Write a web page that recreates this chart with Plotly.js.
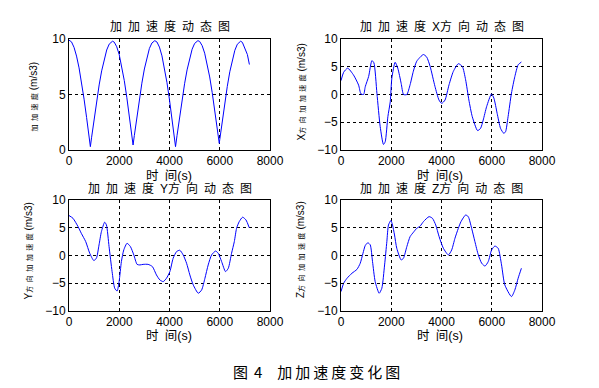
<!DOCTYPE html>
<html><head><meta charset="utf-8">
<script src="https://cdn.plot.ly/plotly-3.0.1.min.js"></script>
<style>body{margin:0;background:#fff}#c{width:599px;height:388px}</style></head>
<body><div id="c"></div>
<script>
// Data
const t1 = [0,100,200,300,400,500,600,700,800,850,900,1000,1100,1200,1300,1400,1500,1600,1700,1730,1800,1900,2000,2100,2200,2300,2400,2500,2550,2600,2700,2800,2900,3000,3100,3200,3300,3415,3500,3600,3700,3800,3900,4000,4100,4200,4240,4300,4400,4500,4600,4700,4800,4900,5000,5130,5200,5300,5400,5500,5600,5700,5800,5900,5980,6000,6100,6200,6300,6400,6500,6600,6700,6830,6900,7000,7100,7180];
const jerk = [9.9,9.74,9.25,8.46,7.4,6.09,4.58,2.93,1.18,0.3,1.15,2.81,4.4,5.86,7.13,8.2,9.01,9.54,9.79,9.8,9.72,9.3,8.58,7.55,6.26,4.75,3.1,1.35,0.45,1.3,2.98,4.57,6.02,7.3,8.35,9.15,9.64,9.85,9.73,9.27,8.48,7.4,6.06,4.51,2.82,1.03,0.3,1.31,2.96,4.53,5.97,7.22,8.27,9.08,9.6,9.85,9.78,9.4,8.72,7.77,6.58,5.17,3.62,1.97,0.6,0.94,2.62,4.24,5.73,7.05,8.14,8.98,9.53,9.8,9.7,9.2,8.6,7.7];

const t2 = [0,105,265,500,700,795,900,965,1100,1230,1310,1430,1560,1690,1760,1865,1960,2025,2155,2260,2395,2490,2620,2750,2880,3015,3280,3410,3545,3740,3900,4010,4140,4300,4470,4670,4830,4960,5090,5225,5435,5555,5660,5795,5990,6085,6215,6350,6480,6550,6650,6785,6920,7050,7180];
const jerkX = [2.5,4.0,4.75,3.5,1.7,0.1,0.0,1.4,3.25,6.1,5.7,0.2,-5.8,-9.0,-8.5,-4.0,-1.3,3.0,5.8,4.75,2.0,0.0,0.0,1.75,4.2,6.0,7.2,6.75,5.1,1.45,-1.0,-1.6,-1.0,1.75,4.15,5.55,5.05,2.65,-1.0,-4.0,-6.5,-6.1,-4.6,-2.2,0.1,-0.65,-3.4,-6.1,-7.0,-6.7,-4.0,0.25,3.25,5.35,5.85];

const t3 = [0,160,360,490,665,825,985,1090,1195,1290,1420,1490,1595,1715,1820,1915,1995,2085,2180,2310,2445,2580,2710,2820,2950,3150,3320,3480,3615,3750,3880,4015,4145,4280,4410,4545,4680,4810,4945,5145,5280,5410,5540,5675,5835,5940,6075,6230,6340,6470,6580,6670,6775,6910,7045,7175];
const jerkY = [7.2,6.7,5.2,4.0,2.5,0.4,-0.9,-0.5,1.9,4.3,6.0,5.5,1.6,-2.9,-5.9,-6.4,-4.7,-1.1,1.0,2.2,1.6,0.1,-1.6,-1.7,-1.6,-1.6,-2.0,-3.5,-4.4,-4.7,-4.1,-2.9,-0.5,0.7,0.95,0.1,-1.4,-3.5,-5.3,-6.8,-6.2,-4.1,-1.7,0.1,0.8,0.4,-1.1,-2.9,-2.3,0.4,2.5,4.9,6.1,6.9,6.4,5.0];

const t4 = [0,105,240,435,635,765,875,965,1070,1165,1255,1360,1520,1625,1735,1825,1890,1985,2050,2130,2220,2395,2485,2620,2750,2885,3015,3150,3280,3505,3640,3770,3905,4075,4275,4405,4535,4670,4775,4960,5065,5200,5330,5465,5600,5730,5860,5995,6125,6255,6390,6520,6785,6920,7050,7180];
const jerkZ = [-6.5,-5.0,-4.1,-3.2,-2.5,-1.4,0.4,1.8,2.3,1.9,-1.1,-4.7,-6.8,-5.9,-1.7,2.5,5.5,6.3,5.5,3.7,1.3,-0.8,-0.5,1.6,3.4,4.2,4.9,5.3,6.1,7.0,6.7,5.5,3.4,1.3,0.1,1.0,3.1,4.9,6.1,7.3,7.0,4.9,2.5,0.1,-1.4,-1.9,-1.1,1.0,1.7,1.3,-1.7,-5.3,-7.4,-6.2,-4.1,-2.3];

const titles = ["加加速度动态图","加加速度X方向动态图","加加速度Y方向动态图","加加速度Z方向动态图"];
const yPrefix = ["","X","Y","Z"];
const yCJK = ["加 加 速 度","方 向 加 加 速 度","方 向 加 加 速 度","方 向 加 加 速 度"];
const yUnit = " (m/s3)";
const xTitle = "时\u2002间(s)";
const caption = "图\u2009\u20094\u2002\u2002加\u2009加\u2009速\u2009度\u2009变\u2009化\u2009图";

const W = 599, H = 388;
const px = v => v / W, py = v => 1 - v / H;
const FONT = "Liberation Sans, Arial, Noto Sans CJK SC, sans-serif";

function ax(domain, anchor, range, dtick) {
  return {domain, anchor, range, dtick, tick0: 0, autorange: false,
    showline: true, mirror: 'ticks', linecolor: '#000', linewidth: 1,
    ticks: 'inside', ticklen: 3, tickcolor: '#000',
    showgrid: true, gridcolor: '#000', griddash: '3px,3px', gridwidth: 1,
    zeroline: false, fixedrange: true,
    tickfont: {family: FONT, size: 12, color: '#000'}};
}

const xd = [[px(69), px(270)], [px(341), px(542)]];
const ydTop = [py(150), py(39)], ydBot = [py(311), py(200)];

const line = {color: '#0000ff', width: 1};
const data = [
  {x: t1, y: jerk, xaxis: 'x', yaxis: 'y', mode: 'lines', line},
  {x: t2, y: jerkX, xaxis: 'x2', yaxis: 'y2', mode: 'lines', line: {...line, shape: 'spline', smoothing: 0.6}},
  {x: t3, y: jerkY, xaxis: 'x3', yaxis: 'y3', mode: 'lines', line: {...line, shape: 'spline', smoothing: 0.6}},
  {x: t4, y: jerkZ, xaxis: 'x4', yaxis: 'y4', mode: 'lines', line: {...line, shape: 'spline', smoothing: 0.6}}
];

const layout = {
  width: W, height: H, margin: {l: 0, r: 0, t: 0, b: 0},
  paper_bgcolor: '#fff', plot_bgcolor: '#fff', showlegend: false,
  font: {family: FONT, color: '#000'},
  xaxis: ax(xd[0], 'y', [0, 8000], 2000), yaxis: ax(ydTop, 'x', [0, 10], 5),
  xaxis2: ax(xd[1], 'y2', [0, 8000], 2000), yaxis2: ax(ydTop, 'x2', [-10, 10], 5),
  xaxis3: ax(xd[0], 'y3', [0, 8000], 2000), yaxis3: ax(ydBot, 'x3', [-10, 10], 5),
  xaxis4: ax(xd[1], 'y4', [0, 8000], 2000), yaxis4: ax(ydBot, 'x4', [-10, 10], 5),
  annotations: []
};

const titlePos = [[169.5, 27], [441.5, 27], [169.5, 188], [441.5, 188]];
const xTitlePos = [[169, 176], [440.5, 176], [169, 336], [440.5, 336]];
const yTitlePos = [[32.5, 97], [300.5, 92], [27.5, 251], [300, 250]];
const spaced = s => Array.from(s).join('\u2002');
for (let i = 0; i < 4; i++) {
  layout.annotations.push({xref: 'paper', yref: 'paper', x: px(titlePos[i][0]), y: py(titlePos[i][1]),
    xanchor: 'center', yanchor: 'middle', showarrow: false, text: spaced(titles[i]).replace(/([XYZ])\u2002/, '$1'),
    font: {family: FONT, size: 12, color: '#000'}});
  layout.annotations.push({xref: 'paper', yref: 'paper', x: px(xTitlePos[i][0]), y: py(xTitlePos[i][1]),
    xanchor: 'center', yanchor: 'middle', showarrow: false, text: xTitle,
    font: {family: FONT, size: 12.5, color: '#000'}});
  layout.annotations.push({xref: 'paper', yref: 'paper', x: px(yTitlePos[i][0]), y: py(yTitlePos[i][1]),
    xanchor: 'center', yanchor: 'middle', showarrow: false, textangle: -90,
    text: yPrefix[i] + '<span style="font-size:7px">' + yCJK[i].replace(/ /g, '\u2002') + '</span>' + yUnit,
    font: {family: FONT, size: 10, color: '#000'}});
}
layout.annotations.push({xref: 'paper', yref: 'paper', x: px(316), y: py(371),
  xanchor: 'center', yanchor: 'middle', showarrow: false, text: caption,
  font: {family: "Noto Sans CJK SC, sans-serif", size: 15, color: '#000'}});

Plotly.newPlot('c', data, layout, {staticPlot: true, displayModeBar: false});
</script></body></html>
